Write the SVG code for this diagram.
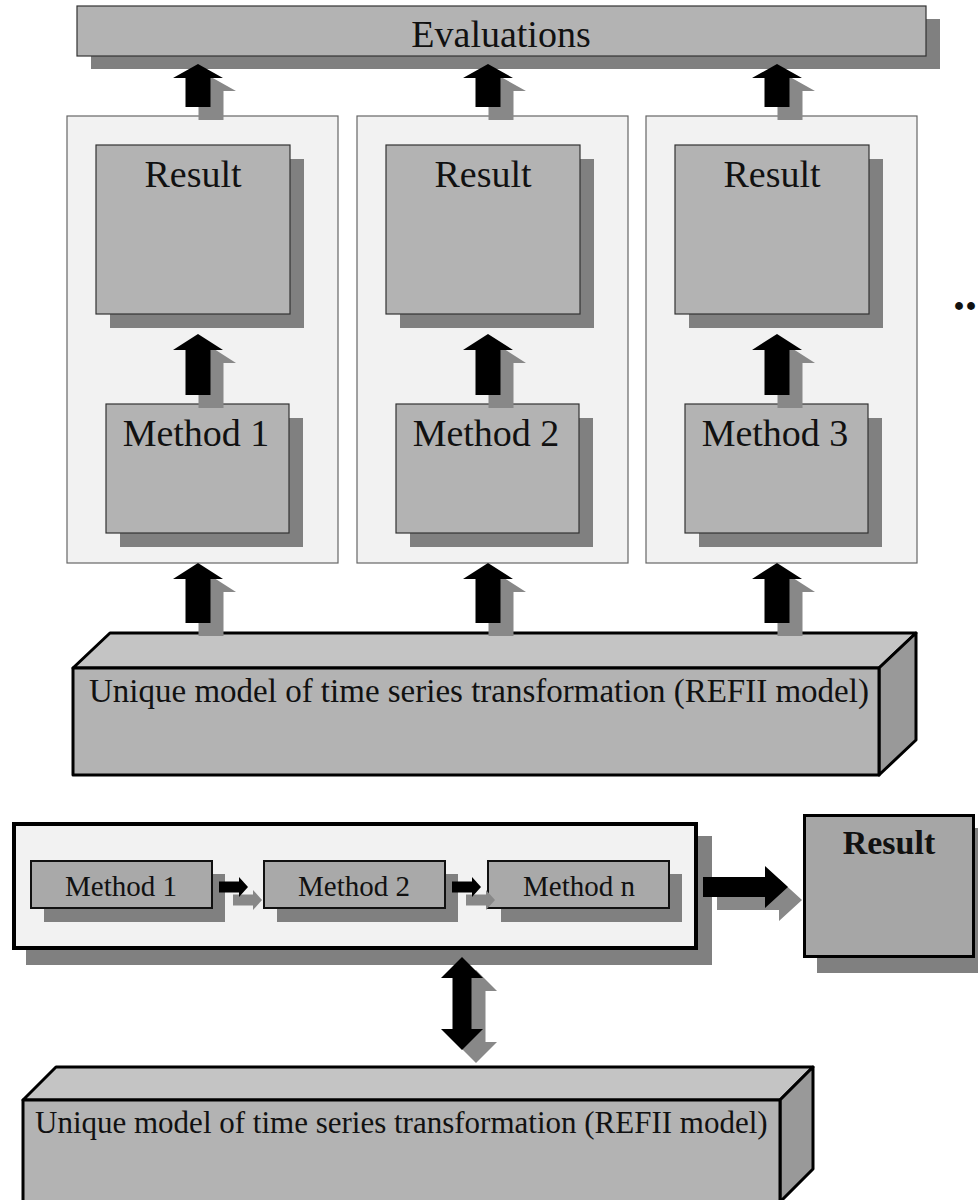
<svg xmlns="http://www.w3.org/2000/svg" width="978" height="1200" viewBox="0 0 978 1200">
<style>
text{font-family:"Liberation Serif","Times New Roman",serif;fill:#111}
.box{fill:#b3b3b3;stroke:#333;stroke-width:1.2}
.sh{fill:#808080}
.panel{fill:#f2f2f2;stroke:#666;stroke-width:1.2}
.blk{fill:#000}
.ash{fill:#888}
.top{fill:#c4c4c4;stroke:#000;stroke-width:3;stroke-linejoin:round}
.front{fill:#b3b3b3;stroke:#000;stroke-width:3;stroke-linejoin:round}
.side{fill:#999;stroke:#000;stroke-width:3;stroke-linejoin:round}
.bm{fill:#a9a9a9;stroke:#111;stroke-width:2}
</style>
<defs>
<path id="upA" d="M0,0 L25,14 L12.5,14 L12.5,43 L-12.5,43 L-12.5,14 L-25,14 Z"/>
<path id="upB" d="M0,0 L25,16 L12.5,16 L12.5,61 L-12.5,61 L-12.5,16 L-25,16 Z"/>
<path id="upC" d="M0,0 L25,16 L12.5,16 L12.5,60 L-12.5,60 L-12.5,16 L-25,16 Z"/>
<path id="rs" d="M0,-5.5 L20,-5.5 L20,-10 L29,0 L20,10 L20,5.5 L0,5.5 Z"/>
<path id="rb" d="M0,-10 L62,-10 L62,-21 L85,0 L62,21 L62,10 L0,10 Z"/>
<path id="dbl" d="M0,0 L21,21 L9.5,21 L9.5,72 L21,72 L0,93 L-21,72 L-9.5,72 L-9.5,21 L-21,21 Z"/>
</defs>

<g id="evaluations">
<rect class="sh" x="91" y="19" width="849" height="50"/>
<rect class="box" x="77" y="6" width="849" height="50"/>
<text x="501" y="47" font-size="38" text-anchor="middle">Evaluations</text>
</g>

<g id="panel1">
<rect class="panel" x="67" y="116" width="271" height="447"/>
</g>
<g id="panel2">
<rect class="panel" x="357" y="116" width="271" height="447"/>
</g>
<g id="panel3">
<rect class="panel" x="646" y="116" width="271" height="447"/>
</g>

<g id="result1">
<rect class="sh" x="110" y="159" width="194" height="169"/>
<rect class="box" x="96" y="145" width="194" height="169"/>
<text x="193" y="187" font-size="38" text-anchor="middle">Result</text>
</g>
<g id="result2">
<rect class="sh" x="400" y="159" width="194" height="169"/>
<rect class="box" x="386" y="145" width="194" height="169"/>
<text x="483" y="187" font-size="38" text-anchor="middle">Result</text>
</g>
<g id="result3">
<rect class="sh" x="689" y="159" width="194" height="169"/>
<rect class="box" x="675" y="145" width="194" height="169"/>
<text x="772" y="187" font-size="38" text-anchor="middle">Result</text>
</g>

<g id="method1">
<rect class="sh" x="120" y="418" width="183" height="129"/>
<rect class="box" x="106" y="404" width="183" height="129"/>
<text x="196" y="446" font-size="38" text-anchor="middle">Method 1</text>
</g>
<g id="method2">
<rect class="sh" x="410" y="418" width="183" height="129"/>
<rect class="box" x="396" y="404" width="183" height="129"/>
<text x="486" y="446" font-size="38" text-anchor="middle">Method 2</text>
</g>
<g id="method3">
<rect class="sh" x="699" y="418" width="183" height="129"/>
<rect class="box" x="685" y="404" width="183" height="129"/>
<text x="775" y="446" font-size="38" text-anchor="middle">Method 3</text>
</g>

<g id="ellipsis">
<text x="953" y="310" font-size="48" font-weight="bold">..</text>
</g>

<g id="refii-top">
<polygon class="top" points="73,668 110,633 916,633 879,668"/>
<polygon class="side" points="879,668 916,633 916,740 879,775"/>
<rect class="front" x="73" y="668" width="806" height="107"/>
<text x="89" y="702" font-size="33">Unique model of time series transformation (REFII model)</text>
</g>

<g id="connectors-top">
<use href="#upA" class="ash" x="211" y="77"/>
<use href="#upA" class="blk" x="198" y="64"/>
<use href="#upA" class="ash" x="501" y="77"/>
<use href="#upA" class="blk" x="488" y="64"/>
<use href="#upA" class="ash" x="790" y="77"/>
<use href="#upA" class="blk" x="777" y="64"/>
<use href="#upB" class="ash" x="211" y="347"/>
<use href="#upB" class="blk" x="198" y="334"/>
<use href="#upB" class="ash" x="501" y="347"/>
<use href="#upB" class="blk" x="488" y="334"/>
<use href="#upB" class="ash" x="790" y="347"/>
<use href="#upB" class="blk" x="777" y="334"/>
<use href="#upC" class="ash" x="211" y="576"/>
<use href="#upC" class="blk" x="198" y="563"/>
<use href="#upC" class="ash" x="501" y="576"/>
<use href="#upC" class="blk" x="488" y="563"/>
<use href="#upC" class="ash" x="790" y="576"/>
<use href="#upC" class="blk" x="777" y="563"/>
</g>

<g id="pipeline">
<rect class="sh" x="26" y="836" width="686" height="129"/>
<rect x="14" y="824" width="682" height="124" fill="#f2f2f2" stroke="#000" stroke-width="4"/>
</g>

<g id="chain-method1">
<rect class="sh" x="44" y="874" width="181" height="48"/>
<rect class="bm" x="31" y="861" width="181" height="47"/>
<text x="121" y="896" font-size="29" text-anchor="middle">Method 1</text>
</g>
<g id="chain-method2">
<rect class="sh" x="277" y="874" width="181" height="48"/>
<rect class="bm" x="264" y="861" width="181" height="47"/>
<text x="354" y="896" font-size="29" text-anchor="middle">Method 2</text>
</g>
<g id="chain-methodn">
<rect class="sh" x="501" y="874" width="181" height="48"/>
<rect class="bm" x="488" y="861" width="181" height="47"/>
<text x="579" y="896" font-size="29" text-anchor="middle">Method n</text>
</g>

<g id="final-result">
<rect class="sh" x="817" y="828" width="174" height="145"/>
<rect x="804.5" y="815.5" width="169" height="141" fill="#a6a6a6" stroke="#000" stroke-width="3"/>
<text x="889" y="854" font-size="34" font-weight="bold" text-anchor="middle">Result</text>
</g>

<g id="refii-bottom">
<polygon class="top" points="23,1100 56,1067 813,1067 780,1100"/>
<polygon class="side" points="780,1100 813,1067 813,1169 780,1202"/>
<rect class="front" x="23" y="1100" width="757" height="102"/>
<text x="35" y="1133" font-size="31">Unique model of time series transformation (REFII model)</text>
</g>

<g id="connectors-bottom">
<use href="#rs" class="ash" x="233" y="900"/>
<use href="#rs" class="blk" x="219" y="887"/>
<use href="#rs" class="ash" x="466" y="900"/>
<use href="#rs" class="blk" x="452" y="887"/>
<use href="#rb" class="ash" x="717" y="900"/>
<use href="#rb" class="blk" x="703" y="887"/>
<use href="#dbl" class="ash" x="476" y="970"/>
<use href="#dbl" class="blk" x="462" y="957"/>
</g>
</svg>
